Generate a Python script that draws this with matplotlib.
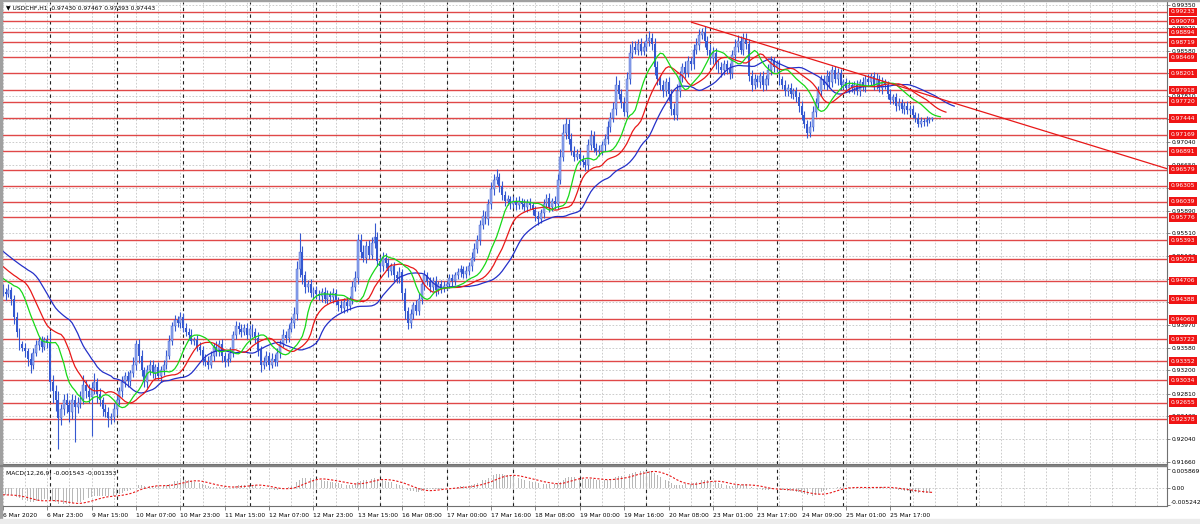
import numpy as np
import pandas as pd
import matplotlib
matplotlib.use("Agg")
import matplotlib.pyplot as plt
from matplotlib.transforms import blended_transform_factory

# --- data: H1 closes in 1e-4 units, bar 0 = 6 Mar 2020 07:00 ---
pre_close = [9562, 9558, 9560, 9555, 9557, 9552, 9554, 9550, 9548, 9551, 9547, 9545,
             9548, 9544, 9542, 9545, 9541, 9540, 9538, 9541, 9537, 9536, 9538, 9535,
             9532, 9520, 9513, 9506, 9500, 9493, 9487, 9480, 9475,
             9470, 9468, 9465, 9463, 9460, 9458, 9456]
first_open = 9458
close_pips = [
    # 6 Mar
    9452, 9448, 9455, 9440, 9410, 9385, 9365, 9358, 9352, 9340, 9330, 9350, 9362, 9370, 9360, 9372, 9366,
    # 9 Mar
    9300, 9285, 9270, 9240, 9255, 9270, 9262, 9250, 9270, 9258, 9265, 9272,
    9295, 9285, 9275, 9290, 9300, 9280, 9270, 9255, 9250, 9240, 9242, 9255,
    # 10 Mar
    9270, 9285, 9300, 9310, 9302, 9315, 9330, 9365, 9345, 9320, 9300, 9320,
    9330, 9315, 9325, 9310, 9320, 9330, 9345, 9370, 9395, 9405, 9400, 9410,
    # 11 Mar
    9392, 9385, 9380, 9370, 9372, 9360, 9355, 9340, 9335, 9330, 9345, 9360,
    9352, 9365, 9345, 9335, 9340, 9350, 9380, 9395, 9390, 9385, 9392, 9380,
    # 12 Mar
    9390, 9385, 9375, 9355, 9330, 9335, 9345, 9330, 9340, 9335, 9350, 9365,
    9380, 9375, 9390, 9400, 9415, 9490, 9520, 9480, 9460, 9465, 9450, 9455,
    # 13 Mar
    9448, 9445, 9452, 9440, 9448, 9443, 9450, 9438, 9430, 9425, 9435, 9428,
    9440, 9460, 9475, 9540, 9520, 9510, 9530, 9515, 9535, 9545, 9505,
    # 16 Mar
    9495, 9510, 9500, 9488, 9495, 9480, 9475, 9485, 9450, 9420, 9400, 9415,
    9430, 9420, 9440, 9465, 9480, 9470, 9460, 9470, 9455, 9465, 9458, 9462,
    # 17 Mar
    9465, 9475, 9470, 9480, 9485, 9490, 9482, 9488, 9495, 9510, 9525, 9540,
    9565, 9580, 9575, 9600, 9625, 9640, 9645, 9630, 9615, 9605, 9608, 9600,
    # 18 Mar
    9605, 9598, 9605, 9600, 9595, 9602, 9598, 9590, 9580, 9575, 9585, 9600,
    9610, 9595, 9605, 9600, 9640, 9680, 9720, 9735, 9710, 9690, 9680, 9685,
    # 19 Mar
    9675, 9670, 9665, 9700, 9715, 9695, 9690, 9690, 9700, 9710, 9730, 9745,
    9760, 9800, 9785, 9770, 9755, 9810, 9855, 9865, 9860, 9870, 9858, 9865,
    # 20 Mar
    9875, 9880, 9870, 9830, 9810, 9800, 9790, 9805, 9785, 9760, 9750, 9790,
    9815, 9830, 9820, 9840, 9835, 9860, 9868, 9885, 9890, 9875, 9860,
    # 23 Mar
    9845, 9855, 9835, 9830, 9825, 9835, 9828, 9820, 9850, 9865, 9875, 9860,
    9878, 9870, 9815, 9800, 9810, 9805, 9815, 9800, 9810, 9825, 9840, 9830,
    # 24 Mar
    9835, 9810, 9800, 9790, 9795, 9785, 9790, 9780, 9765, 9750, 9735, 9720,
    9730, 9755, 9770, 9790, 9810, 9800, 9815, 9805, 9825, 9810, 9820, 9800,
    # 25 Mar
    9805, 9795, 9800, 9795, 9800, 9790, 9805, 9798, 9810, 9805, 9815, 9800,
    9810, 9795, 9805, 9800, 9785, 9775, 9780, 9765, 9770, 9760, 9765, 9758,
    # 26 Mar
    9760, 9750, 9745, 9735, 9740, 9738, 9742, 9743, 9744,
]
wick_up = [
    8, 6, 10, 5, 7, 9, 6, 5, 8, 6, 10, 7, 9, 6, 8, 5, 7,
    20, 12, 10, 15, 8, 10, 12, 9, 11, 8, 10, 14, 18, 9, 12, 10, 15, 8, 10, 6, 9, 8, 7, 10,
    9, 8, 10, 7, 9, 6, 12, 7, 8, 10, 6, 9, 7, 8, 6, 9, 7, 8, 10, 9, 7, 8, 6, 9,
    7, 8, 6, 9, 5, 7, 8, 6, 7, 10, 8, 6, 9, 7, 8, 6, 10, 9, 7, 8, 6, 9, 7, 8,
    6, 8, 7, 9, 6, 7, 8, 6, 9, 7, 8, 6, 9, 7, 8, 10, 12, 15, 32, 10, 8, 7, 9, 6,
    7, 8, 6, 9, 7, 6, 8, 7, 6, 9, 7, 8, 6, 10, 12, 10, 9, 11, 8, 10, 9, 23, 8,
    8, 9, 7, 10, 6, 8, 7, 9, 6, 8, 7, 9, 6, 8, 10, 7, 9, 6, 8, 7, 9, 6, 7, 8,
    6, 7, 8, 6, 7, 8, 6, 7, 8, 9, 10, 8, 9, 10, 8, 9, 12, 10, 14, 8, 9, 7, 8, 6,
    8, 7, 9, 6, 8, 7, 9, 6, 7, 8, 6, 9, 7, 8, 6, 9, 10, 12, 15, 10, 8, 9, 7, 8,
    7, 8, 6, 9, 10, 8, 7, 9, 6, 8, 9, 10, 12, 15, 9, 8, 10, 12, 14, 10, 9, 8, 10, 7,
    10, 12, 8, 9, 10, 8, 9, 7, 8, 9, 10, 12, 9, 8, 10, 9, 8, 10, 12, 9, 7, 10, 8,
    10, 9, 8, 7, 9, 8, 7, 9, 10, 12, 9, 8, 10, 9, 8, 10, 9, 8, 7, 9, 8, 10, 9, 8,
    7, 8, 6, 9, 7, 8, 6, 7, 9, 8, 7, 6, 9, 10, 8, 9, 7, 8, 10, 9, 8, 7, 9, 8,
    6, 7, 8, 6, 7, 9, 6, 8, 7, 9, 6, 8, 10, 7, 8, 6, 7, 9, 6, 7, 8, 6, 7, 8,
    6, 7, 5, 8, 6, 5, 7, 4, 3,
]
wick_dn = [
    6, 9, 5, 10, 12, 8, 10, 6, 9, 12, 15, 7, 6, 8, 9, 6, 8,
    15, 20, 18, 53, 12, 10, 14, 16, 12, 58, 10, 9, 8, 12, 10, 65, 9, 14, 10, 12, 9, 15, 10, 8,
    10, 8, 9, 7, 10, 8, 6, 9, 12, 10, 8, 9, 7, 8, 10, 6, 9, 8, 7, 6, 8, 9, 7, 8,
    8, 7, 9, 6, 8, 7, 9, 10, 8, 7, 6, 9, 7, 8, 10, 9, 7, 6, 8, 7, 9, 8, 6, 7,
    7, 9, 8, 10, 12, 8, 7, 9, 6, 8, 7, 9, 6, 8, 7, 6, 8, 10, 12, 15, 9, 8, 7, 9,
    8, 7, 9, 6, 8, 7, 9, 8, 10, 7, 8, 9, 6, 8, 7, 9, 10, 8, 9, 7, 8, 9, 10,
    9, 8, 7, 10, 8, 9, 7, 8, 12, 14, 10, 9, 8, 7, 6, 8, 9, 7, 8, 6, 9, 7, 8, 6,
    7, 6, 8, 7, 6, 8, 7, 6, 8, 7, 6, 8, 9, 7, 8, 10, 8, 9, 7, 10, 8, 9, 7, 8,
    7, 8, 6, 9, 7, 8, 6, 9, 8, 10, 7, 8, 6, 9, 7, 8, 9, 7, 8, 10, 9, 8, 7, 6,
    9, 8, 10, 7, 9, 8, 7, 9, 8, 10, 9, 8, 7, 10, 9, 8, 7, 9, 8, 10, 7, 9, 8, 7,
    8, 9, 10, 12, 9, 8, 10, 9, 12, 10, 9, 8, 10, 9, 8, 7, 9, 8, 7, 9, 8, 10, 9,
    9, 10, 8, 9, 12, 8, 9, 10, 8, 7, 9, 8, 10, 9, 8, 9, 7, 8, 9, 10, 8, 9, 8, 7,
    8, 9, 7, 8, 9, 7, 8, 9, 10, 8, 7, 9, 8, 7, 9, 8, 9, 7, 8, 9, 8, 7, 9, 8,
    7, 6, 8, 7, 9, 6, 8, 7, 9, 6, 7, 8, 6, 7, 9, 6, 8, 7, 6, 8, 7, 6, 8, 7,
    6, 5, 7, 6, 5, 7, 6, 5, 4,
]

level_prices = [0.99233, 0.99079, 0.98894, 0.98719, 0.98469, 0.98201, 0.97918, 0.97720,
                0.97444, 0.97169, 0.96891, 0.96579, 0.96305, 0.96039, 0.95776, 0.95393,
                0.95075, 0.94706, 0.94388, 0.94060, 0.93722, 0.93352, 0.93034, 0.92655,
                0.92378]
price_ticks = ["0.99350", "0.98970", "0.98580", "0.98200", "0.97810", "0.97430", "0.97040",
               "0.96650", "0.96270", "0.95890", "0.95510", "0.95120", "0.94740", "0.94350",
               "0.93970", "0.93580", "0.93200", "0.92810", "0.92430", "0.92040", "0.91660"]
time_labels = ["6 Mar 2020", "6 Mar 23:00", "9 Mar 15:00", "10 Mar 07:00", "10 Mar 23:00",
               "11 Mar 15:00", "12 Mar 07:00", "12 Mar 23:00", "13 Mar 15:00", "16 Mar 08:00",
               "17 Mar 00:00", "17 Mar 16:00", "18 Mar 08:00", "19 Mar 00:00", "19 Mar 16:00",
               "20 Mar 08:00", "23 Mar 01:00", "23 Mar 17:00", "24 Mar 09:00", "25 Mar 01:00",
               "25 Mar 17:00"]
day_starts = [17, 41, 65, 89, 113, 136, 160, 184, 208, 232, 255, 279, 303, 327, 351]
trend_bars = [248.3, 335.4]
trend_prices = [0.99059, 0.97807]
macd_ticks = [0.005869, 0.0, -0.005242]
macd_tick_labels = ["0.005869", "0.00", "-0.005242"]
header = "\u25bc USDCHF,H1  0.97430 0.97467 0.97393 0.97443"
macd_header = "MACD(12,26,9) -0.001543 -0.001353"

# --- derived series ---
close = np.array(close_pips) / 1e4
open_ = np.r_[first_open / 1e4, close[:-1]]
high = np.maximum(open_, close) + np.array(wick_up) / 1e4
low = np.minimum(open_, close) - np.array(wick_dn) / 1e4
n = len(close)
x = np.arange(n)

pre = np.array(pre_close) / 1e4
x_full = np.arange(-len(pre), n)
med_full = np.r_[pre, (high + low) / 2]
close_full = np.r_[pre, close]


def smma(values, period):
    return pd.Series(values).ewm(alpha=1.0 / period, adjust=False).mean().values


jaw = smma(med_full, 13)
teeth = smma(med_full, 8)
lips = smma(med_full, 5)

cs = pd.Series(close_full)
macd = (cs.ewm(span=12, adjust=False).mean() - cs.ewm(span=26, adjust=False).mean()).values
signal = pd.Series(macd).rolling(9).mean().values

# --- figure ---
FS = 4.3
plt.rcParams["font.family"] = ["DejaVu Sans"]
W, H = 1200, 524
fig = plt.figure(figsize=(W / 100, H / 100), dpi=100, facecolor="white")
left_px, right_px = 2, 1167
ax = fig.add_axes([left_px / W, 1 - 464 / H, (right_px - left_px) / W, 462 / H])
ax2 = fig.add_axes([left_px / W, 1 - 506 / H, (right_px - left_px) / W, 39 / H])

xmin, xmax = -0.3, 419.7
grid_c = "#c4c4c4"
for a in (ax, ax2):
    a.set_xlim(xmin, xmax)
    a.set_facecolor("white")
    for xv in range(0, 420, 8):
        a.axvline(xv, color=grid_c, lw=0.6, ls=(0, (2, 2)), zorder=0)
    for xv in day_starts:
        a.axvline(xv, color="#222222", lw=0.8, ls=(0, (3, 3)), zorder=0.5)
    for s in ("top", "left"):
        a.spines[s].set_visible(False)
    a.spines["right"].set_color("#707070")
    a.spines["bottom"].set_color("#707070")
    a.yaxis.tick_right()
    a.tick_params(axis="y", length=2.5, width=0.6, color="#707070", pad=1,
                  labelsize=FS, labelcolor="black")

# price panel
ax.set_ylim(0.91626, 0.99400)
tick_vals = [float(t) for t in price_ticks]
ax.set_yticks(tick_vals)
ax.set_yticklabels(price_ticks)
for tv in tick_vals:
    ax.axhline(tv, color=grid_c, lw=0.6, ls=(0, (2, 2)), zorder=0)
ax.set_xticks([])

for lv in level_prices:
    ax.axhline(lv, color="#e04848", lw=1.0, zorder=1)

trans = blended_transform_factory(ax.transAxes, ax.transData)
for lv in level_prices:
    ax.text(1.0 + 3.5 / (right_px - left_px), lv, f"{lv:.5f}", transform=trans,
            ha="left", va="center", fontsize=FS, color="white", zorder=20, clip_on=False,
            bbox=dict(boxstyle="square,pad=0.32", fc="#f01414", ec="none"))

# candles
up = close >= open_
body_lo = np.minimum(open_, close)
body_h = np.maximum(np.abs(close - open_), 0.00004)
ax.vlines(x, low, high, color="#3558d0", lw=0.8, zorder=3)
ax.bar(x[~up], body_h[~up], bottom=body_lo[~up], width=0.7, color="#3558d0",
       edgecolor="none", zorder=4)
ax.bar(x[up], body_h[up], bottom=body_lo[up], width=0.7, color="#93a8ec",
       edgecolor="#3558d0", lw=0.3, zorder=4)

# alligator lines
ax.plot(x_full + 8, jaw, color="#2430c8", lw=0.9, zorder=5)
ax.plot(x_full + 5, teeth, color="#e81818", lw=0.9, zorder=5)
ax.plot(x_full + 3, lips, color="#18d818", lw=0.9, zorder=5)

# trend line ray
slope = (trend_prices[1] - trend_prices[0]) / (trend_bars[1] - trend_bars[0])
tx = [trend_bars[0], xmax]
ty = [trend_prices[0], trend_prices[0] + slope * (xmax - trend_bars[0])]
ax.plot(tx, ty, color="#e81818", lw=0.9, zorder=6)

# macd panel
ax2.set_ylim(-0.0056, 0.0065)
ax2.set_yticks(macd_ticks)
ax2.set_yticklabels(macd_tick_labels)
ax2.tick_params(axis="y", pad=0.5)
ylabs = ax2.get_yticklabels()
ylabs[0].set_verticalalignment("top")
ylabs[-1].set_verticalalignment("bottom")
ax2.axhline(0, color=grid_c, lw=0.6, ls=(0, (2, 2)), zorder=0)
vis = x_full >= 0
ax2.bar(x_full[vis], macd[vis], width=0.3, color="#b8b8b8", zorder=3)
ax2.plot(x_full[vis], signal[vis], color="#e81818", lw=0.8, ls=(0, (2, 1.5)), zorder=4)

ax2.set_xticks(np.arange(0, 16 * len(time_labels), 16))
ax2.set_xticklabels(time_labels)
ax2.tick_params(axis="x", length=3, width=0.6, color="#707070", pad=2,
                labelsize=FS, labelcolor="black")
for lab in ax2.get_xticklabels():
    lab.set_horizontalalignment("left")

fig.text(6 / W, 1 - 8 / H, header, fontsize=FS, ha="left", va="center", color="black")
fig.text(6 / W, 1 - 473 / H, macd_header, fontsize=FS, ha="left", va="center", color="black")

# window frame
fig.patches.append(plt.Rectangle((0, 0), 2 / W, 1, transform=fig.transFigure,
                                 color="#a0a0a0", zorder=0))
fig.patches.append(plt.Rectangle((0, 1 - 1.2 / H), 1, 1.2 / H, transform=fig.transFigure,
                                 color="#a0a0a0", zorder=0))
fig.patches.append(plt.Rectangle((0, 0), 1, 5 / H, transform=fig.transFigure,
                                 color="#ececec", zorder=0))
fig.patches.append(plt.Rectangle((0, 1 - 466 / H), right_px / W, 1.5 / H,
                                 transform=fig.transFigure, color="#808080", zorder=0))

fig.savefig("out.png", dpi=100, facecolor="white")
